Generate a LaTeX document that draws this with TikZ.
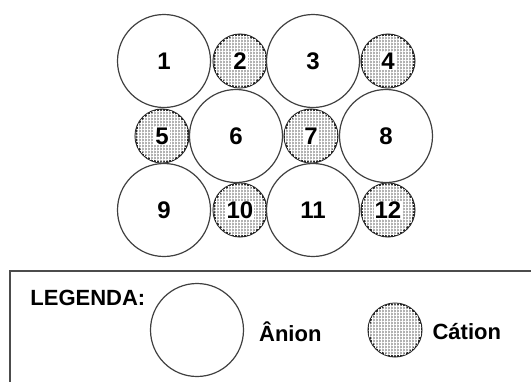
\documentclass[tikz,border=0pt]{standalone}
\usepackage{fontspec}
\setmainfont{Liberation Sans}
\usetikzlibrary{positioning, patterns.meta}

\newcommand{\catlbl}[1]{{\setlength{\fboxsep}{0.5pt}\colorbox{white}{#1}}}

\begin{document}
\begin{tikzpicture}[
    x=0.5pt, y=-0.5pt,
    font=\bfseries\fontsize{11}{13}\selectfont,
    ionfont/.style={font=\bfseries\fontsize{12}{14}\selectfont},
    anion/.style={circle, draw=black!75, line width=0.6pt, fill=white, minimum size=46.5pt, inner sep=0pt, ionfont},
    cation/.style={circle, draw=black!85, line width=1pt, fill=gray!60, minimum size=26.5pt, inner sep=0pt, ionfont,
      postaction={pattern={Lines[distance=1.5pt, angle=0, line width=0.3pt]}, pattern color=white},
      postaction={pattern={Lines[distance=1.5pt, angle=90, line width=0.3pt]}, pattern color=white}},
    legendbox/.style={draw=black!70, line width=0.7pt}
  ]
    \useasboundingbox (0,0) rectangle (531,381);
    \clip (0,0) rectangle (531,381);

    % Row 1
    \node[anion]  (i1)  at (164,61)  {1};
    \node[cation] (i2)  at (240,61)  {\catlbl{2}};
    \node[anion]  (i3)  at (313,61)  {3};
    \node[cation] (i4)  at (388,61)  {\catlbl{4}};

    % Row 2
    \node[cation] (i5)  at (162,136) {\catlbl{5}};
    \node[anion]  (i6)  at (236,136) {6};
    \node[cation] (i7)  at (311,136) {\catlbl{7}};
    \node[anion]  (i8)  at (386,136) {8};

    % Row 3
    \node[anion]  (i9)  at (164,210) {9};
    \node[cation] (i10) at (240,210) {\catlbl{10}};
    \node[anion]  (i11) at (313,210) {11};
    \node[cation] (i12) at (388,210) {\catlbl{12}};

    % Legend
    \draw[legendbox] (10,271) rectangle (560,400);
    \node[anchor=west, inner sep=0pt] (legtitle) at (30,298) {LEGENDA:};
    \node[anion] (keyanion) at (197,330) {};
    \node[right=4pt of keyanion, yshift=-1pt] (lblanion) {Ânion};
    \node[cation] (keycation) at (395,330) {};
    \node[right=1.5pt of keycation, yshift=-1pt] (lblcation) {Cátion};
\end{tikzpicture}
\end{document}
